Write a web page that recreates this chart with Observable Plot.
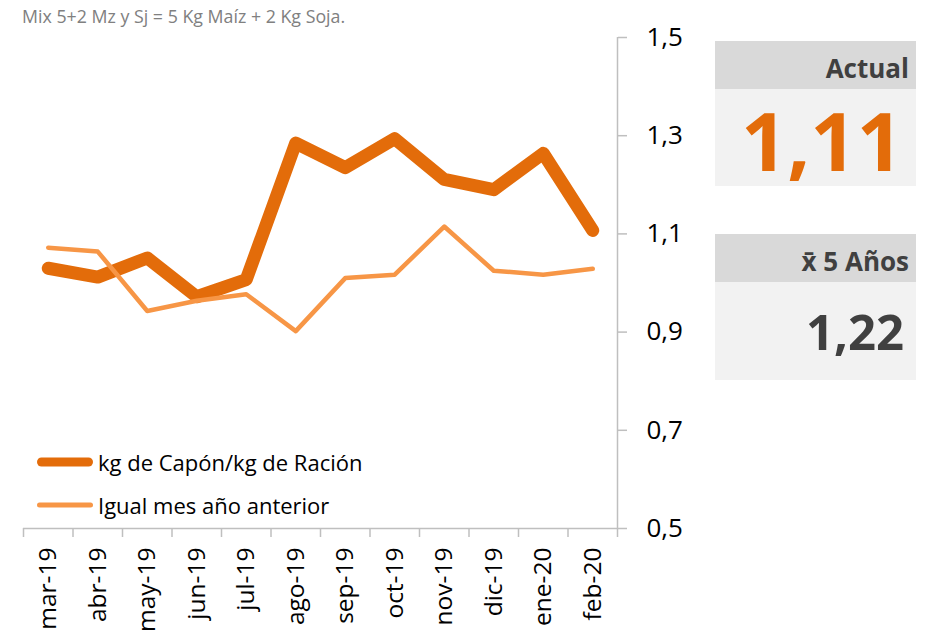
<!DOCTYPE html>
<html><head><meta charset="utf-8">
<script src="https://cdn.jsdelivr.net/npm/d3@7"></script>
<script src="https://cdn.jsdelivr.net/npm/@observablehq/plot@0.6"></script>
<style>
body{margin:0;background:#fff;font-family:"Open Sans",sans-serif;}
#wrap{position:relative;width:933px;height:632px;overflow:hidden;}
#chart{position:absolute;left:0;top:0;}
.sub{position:absolute;left:22px;top:6px;font-size:17.8px;color:#808080;white-space:nowrap;line-height:1.2;}
.hdr,.body{position:absolute;left:715px;width:201px;display:flex;align-items:center;justify-content:flex-end;box-sizing:border-box;font-weight:700;line-height:1;}
.hdr{background:#d9d9d9;height:48px;font-size:26px;color:#404040;padding-right:7px;padding-top:5px;}
.body{background:#f2f2f2;}
.legend{position:absolute;left:36px;font-size:22px;color:#000;display:flex;align-items:center;white-space:nowrap;height:24px;}
.legend svg{margin-right:2px;}
</style></head><body>
<div id="wrap">
  <div id="chart"></div>
  <div class="sub" id="sub"></div>
  <div class="hdr" style="top:41px" id="h1"></div>
  <div class="body" style="top:89px;height:97px;font-size:81px;color:#E36C0A;padding-right:13px;padding-top:4px;" id="b1"></div>
  <div class="hdr" style="top:234px" id="h2"></div>
  <div class="body" style="top:282px;height:98px;font-size:49px;color:#404040;padding-right:12px;" id="b2"></div>
  <div class="legend" style="top:450px" id="lg1"></div>
  <div class="legend" style="top:493px" id="lg2"></div>
</div>
<script>
const subtitle = "Mix 5+2 Mz y Sj = 5 Kg Maíz + 2 Kg Soja.";
const months = ["mar-19","abr-19","may-19","jun-19","jul-19","ago-19","sep-19","oct-19","nov-19","dic-19","ene-20","feb-20"];
const capon = [1.03, 1.012, 1.051, 0.972, 1.007, 1.285, 1.235, 1.294, 1.211, 1.19, 1.264, 1.107];
const igual = [1.072, 1.064, 0.943, 0.964, 0.977, 0.902, 1.010, 1.017, 1.115, 1.025, 1.017, 1.029];
const yTicks = [0.5, 0.7, 0.9, 1.1, 1.3, 1.5];
const seriesNames = ["kg de Capón/kg de Ración", "Igual mes año anterior"];
const boxTitles = ["Actual", "x̄ 5 Años"];
const boxValues = [1.11, 1.22];

const colThick = "#E36C0A", colThin = "#F79646";
const comma1 = v => d3.format(".1f")(v).replace(".", ",");
const comma2 = v => d3.format(".2f")(v).replace(".", ",");
const idx = d3.range(months.length);
const bounds = d3.range(months.length + 1).map(i => i - 0.5);
const thick = idx.map(i => ({i, v: capon[i]}));
const thin = idx.map(i => ({i, v: igual[i]}));

const chart = Plot.plot({
  width: 933, height: 632,
  marginLeft: 23, marginRight: 316, marginTop: 37, marginBottom: 104,
  style: {fontFamily: "Open Sans", background: "transparent", overflow: "visible", color: "#000"},
  x: {type: "linear", domain: [-0.5, 11.5]},
  y: {domain: [0.5, 1.5]},
  marks: [
    Plot.ruleY([0.5], {stroke: "#bfbfbf", strokeWidth: 1.5}),
    Plot.ruleX([11.5], {stroke: "#bfbfbf", strokeWidth: 1.5}),
    Plot.axisX(bounds, {tickSize: 9, tickFormat: () => "", stroke: "#bfbfbf", strokeWidth: 1.5, strokeOpacity: 1, label: null}),
    Plot.axisX(idx, {tickSize: 0, tickRotate: -90, tickPadding: 19, tickFormat: i => months[i], fontSize: 24.5, fill: "#000", label: null}),
    Plot.axisY(yTicks, {anchor: "right", tickSize: 9, tickPadding: 20, tickFormat: comma1, fontSize: 26, stroke: "#bfbfbf", strokeWidth: 1.5, strokeOpacity: 1, fill: "#000", label: null}),
    Plot.line(thick, {x: "i", y: "v", stroke: colThick, strokeWidth: 13, strokeLinejoin: "round", strokeLinecap: "round"}),
    Plot.line(thin, {x: "i", y: "v", stroke: colThin, strokeWidth: 4.5, strokeLinejoin: "round", strokeLinecap: "round"})
  ]
});
document.getElementById("chart").appendChild(chart);

document.getElementById("sub").textContent = subtitle;
document.getElementById("h1").textContent = boxTitles[0];
document.getElementById("h2").textContent = boxTitles[1];
document.getElementById("b1").textContent = comma2(boxValues[0]);
document.getElementById("b2").textContent = comma2(boxValues[1]);

function legend(id, name, color, w) {
  const el = document.getElementById(id);
  el.innerHTML = `<svg width="60" height="24"><line x1="${1 + w/2}" x2="${57 - w/2}" y1="12" y2="12" stroke="${color}" stroke-width="${w}" stroke-linecap="round"/></svg>`;
  const s = document.createElement("span"); s.textContent = name; el.appendChild(s);
}
legend("lg1", seriesNames[0], colThick, 9);
legend("lg2", seriesNames[1], colThin, 5);
</script>
</body></html>
